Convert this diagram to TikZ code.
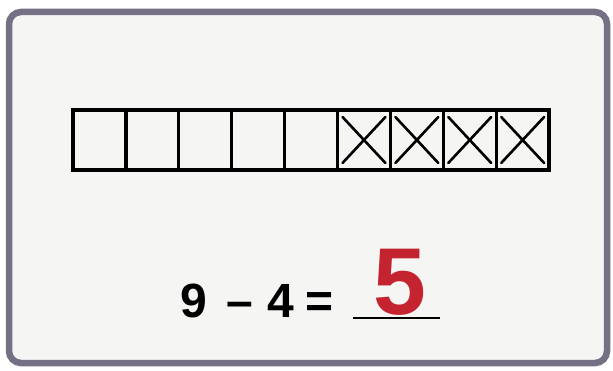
\documentclass[tikz,border=0pt]{standalone}
\usepackage{fontspec}
\setmainfont{Liberation Sans}
\definecolor{framecol}{RGB}{118,112,132}
\definecolor{paper}{RGB}{245,245,244}
\definecolor{redink}{RGB}{196,36,48}
\tikzset{
  cell/.style={draw=black, line width=3.2pt, minimum width=52.9pt, minimum height=60pt, inner sep=0pt, outer sep=0pt},
  crossline/.style={line width=2.6pt, line cap=round},
  eq/.style={font=\fontsize{48}{48}\selectfont\bfseries, inner sep=0pt, anchor=base},
}
\begin{document}
\begin{tikzpicture}[x=1pt,y=-1pt]
\useasboundingbox (0,0) rectangle (613,371);
\fill[white] (0,0) rectangle (613,371);
\draw[framecol, line width=6.5pt, fill=paper, rounded corners=12pt] (9,12) rectangle (607,363);
% cells
\foreach \i in {1,...,9} {
  \node[cell] (b\i) at ({73+52.9*(\i-0.5)},140) {};
}
\draw[line width=4pt] (b1.north west) rectangle (b9.south east);
\foreach \i in {6,...,9} {
  \draw[crossline] ([shift={(5pt,-7pt)}]b\i.north west) -- ([shift={(-5pt,7pt)}]b\i.south east);
  \draw[crossline] ([shift={(-5pt,-7pt)}]b\i.north east) -- ([shift={(5pt,7pt)}]b\i.south west);
}
% equation
\node[eq] (n9) at (194,318) {9};
\node[eq] (mn) at (240,318) {\textendash};
\node[eq] (n4) at (281,318) {4};
\node[eq] (eqs) at (320,318) {=};
\coordinate (ul) at (353,318);
\coordinate (ur) at (440,318);
\draw[line width=2.4pt] (ul) -- (ur);
\node[font=\fontsize{95}{95}\selectfont\bfseries, text=redink, inner sep=0pt, anchor=base] (ans) at (400,315) {5};
\end{tikzpicture}
\end{document}
